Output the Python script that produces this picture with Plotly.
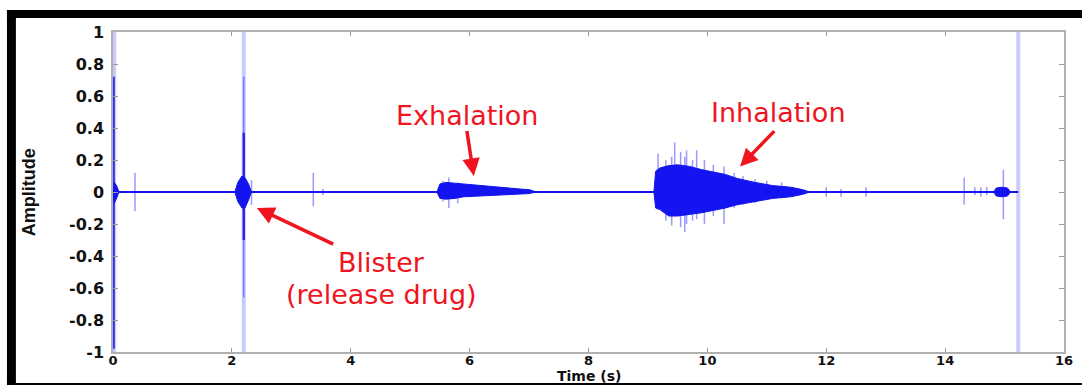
import plotly.graph_objects as go

# ---------------- data ----------------
x_ticks = [0, 2, 4, 6, 8, 10, 12, 14, 16]
y_ticks = [-1, -0.8, -0.6, -0.4, -0.2, 0, 0.2, 0.4, 0.6, 0.8, 1]
y_tick_text = ["-1", "-0.8", "-0.6", "-0.4", "-0.2", "0", "0.2", "0.4", "0.6", "0.8", "1"]

baseline_t = [0.0, 15.23]
baseline_a = [0.0, 0.0]

# dense bursts: time, upper envelope, lower envelope
start_t = [0.0, 0.02, 0.06, 0.1]
start_hi = [0.0, 0.06, 0.04, 0.0]
start_lo = [0.0, -0.07, -0.04, 0.0]

blister_t = [2.05, 2.1, 2.17, 2.22, 2.28, 2.33]
blister_hi = [0.0, 0.06, 0.1, 0.09, 0.05, 0.0]
blister_lo = [0.0, -0.06, -0.1, -0.1, -0.05, 0.0]

exh_t = [5.45, 5.5, 5.6, 5.75, 5.9, 6.1, 6.3, 6.45, 6.7, 6.9, 7.0, 7.12]
exh_hi = [0.0, 0.05, 0.06, 0.055, 0.05, 0.04, 0.035, 0.03, 0.022, 0.017, 0.015, 0.0]
exh_lo = [0.0, -0.04, -0.045, -0.04, -0.03, -0.027, -0.023, -0.02, -0.015, -0.012, -0.01, 0.0]

inh_t = [9.1, 9.13, 9.2, 9.35, 9.5, 9.7, 9.9, 10.1, 10.3, 10.5, 10.8, 11.1, 11.4, 11.6, 11.72]
inh_hi = [0.0, 0.13, 0.15, 0.165, 0.17, 0.16, 0.14, 0.125, 0.11, 0.085, 0.06, 0.04, 0.03, 0.015, 0.0]
inh_lo = [0.0, -0.1, -0.11, -0.15, -0.15, -0.14, -0.13, -0.115, -0.1, -0.08, -0.06, -0.04, -0.03, -0.015, 0.0]

end_t = [14.82, 14.86, 14.95, 15.05, 15.1]
end_hi = [0.0, 0.025, 0.03, 0.025, 0.0]
end_lo = [0.0, -0.025, -0.03, -0.025, 0.0]

# isolated spikes: time, max, min
spike_t = [0.37, 2.2, 2.33, 3.37, 3.53, 5.55, 5.65, 5.8, 9.17, 9.3, 9.4, 9.45, 9.55, 9.62, 9.65,
           9.75, 9.82, 9.95, 10.1, 10.28, 10.45, 10.6, 10.8, 11.0, 11.25, 12.0, 12.25, 12.67,
           14.32, 14.5, 14.6, 14.7, 14.98]
spike_hi = [0.12, 0.72, 0.075, 0.12, 0.02, 0.07, 0.09, 0.06, 0.24, 0.2, 0.22, 0.31, 0.25, 0.22, 0.26,
            0.2, 0.26, 0.2, 0.17, 0.16, 0.12, 0.1, 0.08, 0.07, 0.06, 0.03, 0.02, 0.03,
            0.09, 0.03, 0.03, 0.03, 0.14]
spike_lo = [-0.12, -0.66, -0.08, -0.09, -0.02, -0.06, -0.1, -0.07, -0.06, -0.18, -0.21, -0.15, -0.22, -0.25, -0.2,
            -0.18, -0.17, -0.2, -0.15, -0.2, -0.1, -0.08, -0.07, -0.05, -0.04, -0.03, -0.03, -0.03,
            -0.08, -0.02, -0.03, -0.02, -0.17]

# strong (dark) spikes
strong_t = [0.01, 2.2]
strong_hi = [0.72, 0.37]
strong_lo = [-0.98, -0.3]

# faint full-scale clipping lines
full_t = [0.02, 2.2, 15.23]
full_hi = [1.0, 1.0, 1.0]
full_lo = [-1.0, -1.0, -1.0]

BLUE = "#1414f0"


def seg_xy(ts, his, los):
    xs, ys = [], []
    for t, h, l in zip(ts, his, los):
        xs += [t, t, None]
        ys += [l, h, None]
    return xs, ys


def env_xy(ts, his, los):
    return ts + ts[::-1], his + los[::-1]


fig = go.Figure()

fx, fy = seg_xy(full_t, full_hi, full_lo)
fig.add_trace(go.Scatter(x=fx, y=fy, mode="lines",
                         line=dict(color="rgba(60,60,255,0.28)", width=4), hoverinfo="skip"))

sx, sy = seg_xy(spike_t, spike_hi, spike_lo)
fig.add_trace(go.Scatter(x=sx, y=sy, mode="lines",
                         line=dict(color="rgba(30,30,255,0.45)", width=1.5), hoverinfo="skip"))

kx, ky = seg_xy(strong_t, strong_hi, strong_lo)
fig.add_trace(go.Scatter(x=kx, y=ky, mode="lines",
                         line=dict(color="rgba(20,20,240,0.85)", width=2.5), hoverinfo="skip"))

fig.add_trace(go.Scatter(x=baseline_t, y=baseline_a, mode="lines",
                         line=dict(color=BLUE, width=2), hoverinfo="skip"))

for ts, hi, lo in [(start_t, start_hi, start_lo), (blister_t, blister_hi, blister_lo),
                   (exh_t, exh_hi, exh_lo), (inh_t, inh_hi, inh_lo), (end_t, end_hi, end_lo)]:
    ex, ey = env_xy(ts, hi, lo)
    fig.add_trace(go.Scatter(x=ex, y=ey, mode="lines", fill="toself", fillcolor=BLUE,
                             line=dict(color=BLUE, width=1), hoverinfo="skip"))

RED = "#f0141e"
TXT = dict(family="DejaVu Sans", size=27, color=RED)

annotations = [
    dict(x=5.95, y=0.48, xref="x", yref="y", text="Exhalation", showarrow=False, font=TXT),
    dict(x=11.2, y=0.5, xref="x", yref="y", text="Inhalation", showarrow=False, font=TXT),
    dict(x=4.52, y=-0.44, xref="x", yref="y", text="Blister", showarrow=False, font=TXT),
    dict(x=4.52, y=-0.64, xref="x", yref="y", text="(release drug)", showarrow=False, font=TXT),
    # arrows
    dict(x=6.07, y=0.1, ax=5.95, ay=0.39, xref="x", yref="y", axref="x", ayref="y", text="",
         showarrow=True, arrowhead=2, arrowsize=1, arrowwidth=3.5, arrowcolor=RED),
    dict(x=10.55, y=0.16, ax=11.15, ay=0.39, xref="x", yref="y", axref="x", ayref="y", text="",
         showarrow=True, arrowhead=2, arrowsize=1, arrowwidth=3.5, arrowcolor=RED),
    dict(x=2.42, y=-0.1, ax=3.73, ay=-0.33, xref="x", yref="y", axref="x", ayref="y", text="",
         showarrow=True, arrowhead=2, arrowsize=1, arrowwidth=3.5, arrowcolor=RED),
    # axis titles
    dict(x=-0.088, y=0.5, xref="paper", yref="paper", text="Amplitude", textangle=-90,
         showarrow=False, font=dict(family="Liberation Sans", size=18, color="#111111", weight="bold"),
         xanchor="center", yanchor="middle"),
    dict(x=0.5, y=-0.1031, xref="paper", yref="paper", text="Time (s)", showarrow=False,
         font=dict(family="DejaVu Sans", size=14, color="#111111", weight="bold"),
         xanchor="center", yanchor="bottom", borderpad=0),
]

shapes = [
    # black picture frame
    dict(type="rect", xref="paper", yref="paper", x0=-0.1115, x1=1.02, y0=1.044, y1=1.069,
         fillcolor="black", line=dict(width=0), layer="above"),
    dict(type="rect", xref="paper", yref="paper", x0=-0.1115, x1=-0.1021, y0=-0.11, y1=1.069,
         fillcolor="black", line=dict(width=0), layer="above"),
    dict(type="rect", xref="paper", yref="paper", x0=-0.1115, x1=1.02, y0=-0.11, y1=-0.097,
         fillcolor="black", line=dict(width=0), layer="above"),
]

fig.update_layout(
    width=1082, height=385,
    margin=dict(l=113, r=9, t=32, b=33),
    paper_bgcolor="white", plot_bgcolor="white",
    showlegend=False,
    annotations=annotations,
    shapes=shapes,
    xaxis=dict(range=[0, 16], tickvals=x_ticks, ticks="inside", ticklen=4, tickcolor="#999999",
               showline=True, linecolor="#b0b0b0", linewidth=1.5, mirror="ticks",
               showgrid=False, zeroline=False, ticklabelstandoff=-4,
               tickfont=dict(family="DejaVu Sans", size=13, color="#111111", weight="bold")),
    yaxis=dict(range=[-1, 1], tickvals=y_ticks, ticktext=y_tick_text, ticks="inside", ticklen=5,
               tickcolor="#999999", showline=True, linecolor="#b0b0b0", linewidth=1.5,
               mirror="ticks", showgrid=False, zeroline=False, ticklabelstandoff=4,
               tickfont=dict(family="DejaVu Sans", size=16, color="#111111", weight="bold")),
)

fig.write_html("out.html", config={"displayModeBar": False},
               post_script="document.body.style.margin='0';document.body.style.overflow='hidden';")
